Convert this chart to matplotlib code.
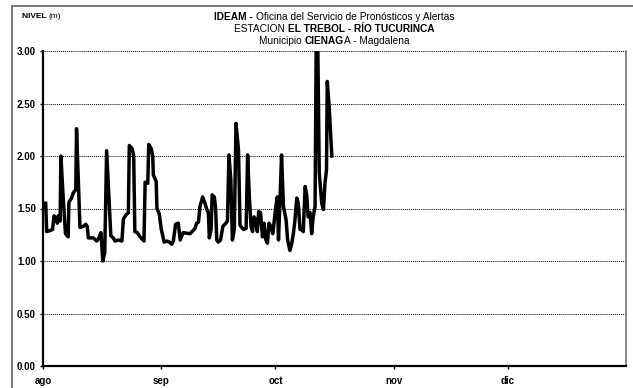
import matplotlib
matplotlib.use("Agg")
import matplotlib.pyplot as plt
from matplotlib.lines import Line2D

plt.rcParams['font.family'] = ['Liberation Sans', 'DejaVu Sans']

# days counted from 1 ago, level in metres
dias = [0.7, 0.97, 1.84, 2.5, 2.9, 3.4, 3.75, 4.0, 4.5, 4.7, 5.3, 5.9, 6.6, 6.8,
        7.5, 7.95, 8.6, 8.8, 9.7, 10.6, 11.2, 11.6, 11.9, 13.2, 14.1, 14.7, 15.2,
        15.7, 16.2, 16.7, 17.8, 18.45, 18.9, 19.8, 20.7, 21.1, 21.8, 22.4, 22.65,
        23.4, 23.8, 24.1, 24.75, 25.5, 26.5, 26.8, 27.5, 27.75, 28.4, 28.8, 28.95,
        29.7, 29.9, 30.5, 31.05, 31.8, 32.5, 33.15, 33.8, 34.2, 34.8, 35.5, 36.0,
        36.8, 38.6, 39.9, 40.3, 40.8, 41.2, 41.9, 42.5, 43.0, 43.4, 43.65, 44.1,
        44.4, 44.96, 45.3, 45.6, 46.0, 46.6, 47.2, 48.0, 48.4, 48.8, 49.3, 49.7,
        50.2, 50.65, 51.3, 51.7, 52.6, 53.3, 53.7, 54.15, 54.6, 55.0, 55.4, 55.9,
        56.25, 56.6, 57.1, 57.6, 58.0, 58.5, 58.9, 59.3, 59.8, 60.3, 60.7, 61.15,
        61.5, 61.8, 62.2, 62.6, 63.1, 63.8, 64.2, 64.8, 65.3, 65.7, 66.1, 66.6,
        67.0, 67.45, 67.9, 68.3, 68.8, 69.2, 69.6, 70.1, 70.5, 70.9, 71.4, 71.7,
        72.1, 72.5, 73.15, 73.6, 74.0, 74.4, 74.6, 75.1, 75.8]
nivel = [1.55, 1.28, 1.29, 1.30, 1.43, 1.41, 1.36, 1.43, 1.38, 2.00, 1.60, 1.26, 1.23, 1.56,
         1.60, 1.65, 1.68, 2.26, 1.32, 1.33, 1.35, 1.33, 1.22, 1.22, 1.19, 1.22, 1.27,
         1.00, 1.08, 2.05, 1.24, 1.22, 1.19, 1.20, 1.19, 1.40, 1.44, 1.46, 2.10,
         2.07, 2.00, 1.28, 1.27, 1.23, 1.19, 1.75, 1.74, 2.11, 2.07, 2.00, 1.82,
         1.76, 1.50, 1.45, 1.30, 1.18, 1.19, 1.18, 1.16, 1.19, 1.35, 1.36, 1.20,
         1.27, 1.26, 1.31, 1.36, 1.37, 1.52, 1.61, 1.55, 1.49, 1.46, 1.22, 1.30,
         1.63, 1.61, 1.50, 1.20, 1.18, 1.20, 1.33, 1.36, 1.38, 2.01, 1.77, 1.20,
         1.30, 2.31, 2.06, 1.34, 1.30, 1.31, 2.01, 1.61, 1.33, 1.28, 1.42, 1.38,
         1.28, 1.47, 1.46, 1.23, 1.36, 1.20, 1.17, 1.36, 1.33, 1.26, 1.39, 1.53,
         1.61, 1.20, 1.58, 2.01, 1.52, 1.39, 1.20, 1.10, 1.17, 1.26, 1.38, 1.60,
         1.55, 1.30, 1.30, 1.28, 1.71, 1.63, 1.42, 1.46, 1.26, 1.42, 1.52, 3.10,
         3.10, 1.84, 1.55, 1.49, 1.74, 1.87, 2.71, 2.47, 2.00]

meses = ['ago', 'sep', 'oct', 'nov', 'dic']
inicio_mes = [0, 31, 61, 92, 122]
y_ticks = [0.0, 0.5, 1.0, 1.5, 2.0, 2.5, 3.0]

W, H = 633, 388
fig = plt.figure(figsize=(W / 100, H / 100), dpi=100)
ax = fig.add_axes([43 / W, 1 - 366 / H, (626 - 43) / W, (366 - 51) / H])

ax.plot(dias, nivel, color='black', linewidth=2.5, solid_joinstyle='round')

ax.set_xlim(0, 153)
ax.set_ylim(0, 3.0)
ax.set_yticks(y_ticks)
ax.set_yticklabels([f"{v:.2f}" for v in y_ticks], fontsize=7, fontweight='bold')
ax.set_xticks(inicio_mes)
ax.set_xticklabels(meses, fontsize=7, fontweight='bold')
ax.tick_params(axis='y', length=2.2, width=1, pad=3)
ax.tick_params(axis='x', length=2.2, width=1, pad=5)

# dotted grid
ax.grid(True, axis='y', linestyle=(0, (1, 1)), color='black', linewidth=0.7)
ax.set_axisbelow(True)

ax.spines['top'].set_visible(False)
ax.spines['right'].set_color('#777777')
ax.spines['right'].set_linewidth(1.2)
ax.spines['left'].set_linewidth(1.6)
ax.spines['bottom'].set_linewidth(1.6)

# outer frame of the figure
fig.add_artist(Line2D([12 / W, 12 / W], [0, 1 - 6 / H], color='#777777', linewidth=1.4))
fig.add_artist(Line2D([12 / W, 1], [1 - 6 / H, 1 - 6 / H], color='#777777', linewidth=1.4))

renderer = fig.canvas.get_renderer()


def rich_line(x_px, y_px, parts, size, align='center'):
    texts = []
    widths = []
    for s, w in parts:
        t = fig.text(0, 0, s, fontsize=size, fontweight=w, va='center', ha='left')
        widths.append(t.get_window_extent(renderer).width)
        texts.append(t)
    total = sum(widths)
    x = x_px - total / 2 if align == 'center' else x_px
    for t, wd in zip(texts, widths):
        t.set_position((x / W, 1 - y_px / H))
        x += wd


rich_line(22, 17, [("NIVEL ", 'bold'), ("(m)", 'normal')], 6, align='left')
rich_line(334, 17, [("IDEAM - ", 'bold'), ("Oficina del Servicio de Pronósticos y Alertas", 'normal')], 7.3)
rich_line(334, 29, [("ESTACION ", 'normal'), ("EL TREBOL - RÍO TUCURINCA", 'bold')], 7.3)
rich_line(334, 41, [("Municipio ", 'normal'), ("CIENAG", 'bold'), ("A - Magdalena", 'normal')], 7.3)

fig.savefig('out.png', dpi=100)
